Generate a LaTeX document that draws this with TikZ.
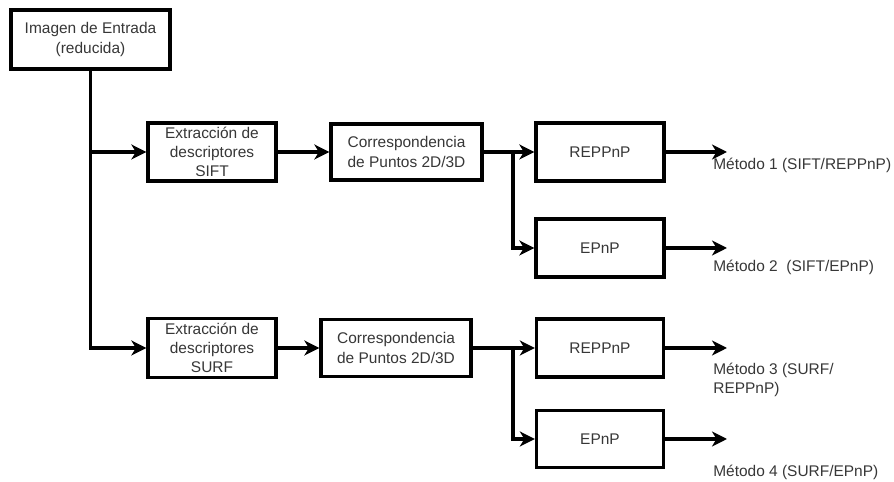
\documentclass[tikz,border=0pt]{standalone}
\usepackage{fontspec}
\setmainfont{Liberation Sans}
\usetikzlibrary{arrows.meta, positioning}
\definecolor{txtgray}{RGB}{55,55,55}

\begin{document}
\begin{tikzpicture}[
  x=0.02cm, y=-0.02cm,
  blk/.style={rectangle, draw=black, line width=1.9pt, fill=white,
              inner sep=0pt, align=center, text=txtgray,
              font=\fontsize{8.8}{11}\selectfont},
  lbl/.style={anchor=west, inner sep=0pt, align=left, text=txtgray,
              font=\fontsize{8.8}{11}\selectfont},
  arr/.style={-{Stealth[length=0.3cm, width=0.3cm, inset=0.09cm]},
              line width=1.9pt}
]
  \useasboundingbox (0,0) rectangle (894,482);

  %% --- Input image ---
  \node[blk, minimum width=3.18cm, minimum height=1.18cm]
    (img) at (90.5,39.5) {Imagen de Entrada\\(reducida)};

  %% --- Row 1: SIFT branch ---
  \node[blk, minimum width=2.56cm, minimum height=1.16cm]
    (sift) at (212,152) {Extracci\'on de\\descriptores\\SIFT};
  \node[blk, minimum width=3.02cm, minimum height=1.12cm]
    (corr1) at (406.5,152) {Correspondencia\\de Puntos 2D/3D};
  \node[blk, minimum width=2.56cm, minimum height=1.16cm]
    (rep1) at (600,152) {REPPnP};
  \node[blk, minimum width=2.56cm, minimum height=1.16cm]
    (ep1) at (600,248) {EPnP};

  %% --- Row 2: SURF branch ---
  \node[blk, minimum width=2.56cm, minimum height=1.18cm]
    (surf) at (212,348) {Extracci\'on de\\descriptores\\SURF};
  \node[blk, minimum width=3.0cm, minimum height=1.14cm]
    (corr2) at (396,348) {Correspondencia\\de Puntos 2D/3D};
  \node[blk, minimum width=2.54cm, minimum height=1.16cm]
    (rep2) at (600,348) {REPPnP};
  \node[blk, minimum width=2.54cm, minimum height=1.14cm]
    (ep2) at (600,439) {EPnP};

  %% --- Split points and arrow ends ---
  \coordinate (s1) at (513,152);
  \coordinate (s2) at (513,348);
  \coordinate (o1) at (727,152);
  \coordinate (o2) at (727,248);
  \coordinate (o3) at (727,348);
  \coordinate (o4) at (727,439);

  %% --- Method labels ---
  \node[lbl] (m1) at (713,165) {M\'etodo 1 (SIFT/REPPnP)};
  \node[lbl] (m2) at (713,267) {M\'etodo 2\ \ (SIFT/EPnP)};
  \node[lbl] (m3) at (713,380) {M\'etodo 3 (SURF/\\REPPnP)};
  \node[lbl] (m4) at (713,472) {M\'etodo 4 (SURF/EPnP)};

  %% --- Arrows ---
  %% Input -> both extractors
  \draw[arr] (img.south) |- (sift.west);
  \draw[arr] (img.south) |- (surf.west);

  %% Extractors -> correspondence
  \draw[arr] (sift.east) -- (corr1.west);
  \draw[arr] (surf.east) -- (corr2.west);

  %% Correspondence -> solvers
  \draw[arr] (corr1.east) -- (rep1.west);
  \draw[arr] (s1) |- (ep1.west);
  \draw[arr] (corr2.east) -- (rep2.west);
  \draw[arr] (s2) |- (ep2.west);

  %% Solvers -> results
  \draw[arr] (rep1.east) -- (o1);
  \draw[arr] (ep1.east)  -- (o2);
  \draw[arr] (rep2.east) -- (o3);
  \draw[arr] (ep2.east)  -- (o4);

\end{tikzpicture}
\end{document}
